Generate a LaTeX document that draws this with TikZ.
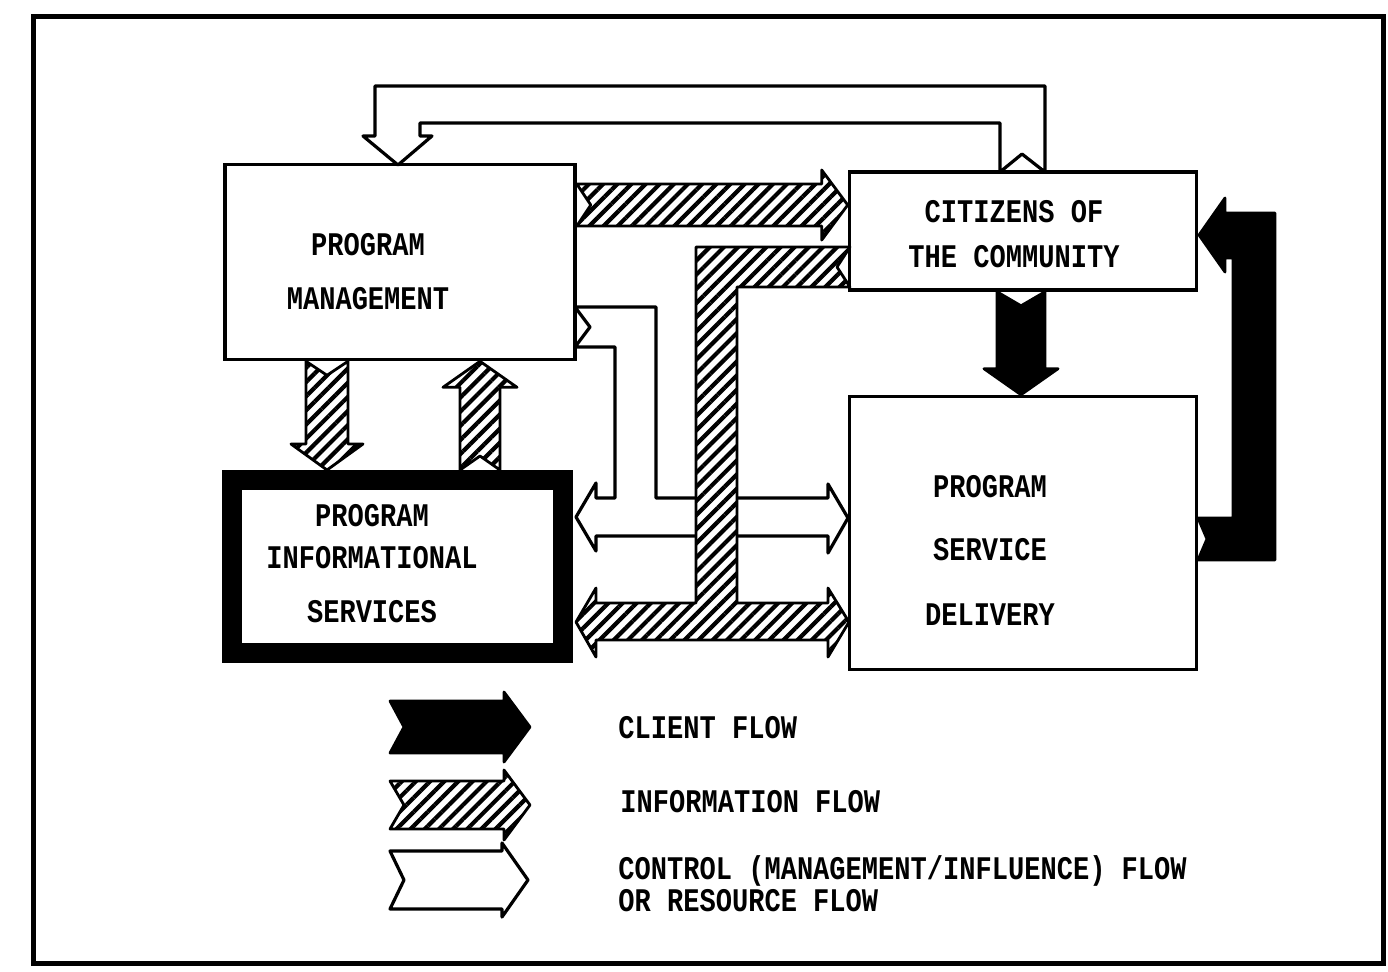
\documentclass[tikz,border=0pt]{standalone}
\usepackage{fontspec}
\newfontfamily\typedfont{Liberation Mono}[FakeStretch=0.82]
\usetikzlibrary{calc,patterns.meta}
\newcommand{\flowarrow}[5]{%
  % style, tail, tip, half shaft width, half head width; tail is notched.
  \path[#1] ($#2!#4!90:#3$) -- ($#2!7pt!#3$) -- ($#2!#4!-90:#3$)
    -- ($#3!13pt!#2!#4!-90:#3$) -- ($#3!13pt!#2!#5!-90:#3$) -- #3
    -- ($#3!13pt!#2!#5!90:#3$) -- ($#3!13pt!#2!#4!90:#3$) -- cycle;
}

\begin{document}
\begin{tikzpicture}[x=0.5pt,y=-0.5pt,
  box/.style={draw,line width=1.8pt,inner sep=0pt},
  txt/.style={font=\typedfont\bfseries\fontsize{16.5}{18}\selectfont,align=center,inner sep=0pt},
  client/.style={draw,fill=black,line width=1.4pt,line join=round},
  info/.style={draw,line width=1.4pt,line join=round,preaction={fill=white},
    pattern={Lines[angle=45,distance=5pt,line width=2.1pt]}},
  control/.style={draw,fill=white,line width=1.6pt,line join=round}]
  \useasboundingbox (0,0) rectangle (1388,971);
  \draw[line width=2.5pt] (33,16) rectangle (1383,963);

  % boxes
  \node[box,minimum width=175pt,minimum height=97.5pt] (pm) at (400,262) {};
  \node[box,minimum width=173.5pt,minimum height=59pt] (cit) at (1023,231) {};
  \node[box,line width=10pt,minimum width=165.5pt,minimum height=86.5pt] (pis) at (397.5,566.5) {};
  \node[box,minimum width=173.5pt,minimum height=136.5pt] (psd) at (1023,533) {};
  \node[txt] (pmtext) at (368,272) {PROGRAM\\[9pt]MANAGEMENT};
  \node[txt] (cittext) at (1014,234) {CITIZENS OF\\[4.5pt]THE COMMUNITY};
  \node[txt] (pistext) at (372,564) {PROGRAM\\[3pt]INFORMATIONAL\\[9pt]SERVICES};
  \node[txt] (psdtext) at (990,550) {PROGRAM\\[13.5pt]SERVICE\\[14.5pt]DELIVERY};

  % control flow
  \path[control] (1000,172) -- (1022,154) -- (1045,172) -- (1045,86) -- (375,86)
    -- (375,136) -- (363,136) -- (398,165) -- (432,136) -- (420,136) -- (420,123)
    -- (1000,123) -- cycle;
  \path[control] (575,307) -- (656,307) -- (656,498) -- (828,498) -- (828,484)
    -- (848,518) -- (828,553) -- (828,536) -- (596,536) -- (596,551) -- (576,517)
    -- (596,483) -- (596,498) -- (615,498) -- (615,347) -- (575,347) -- (590,327) -- cycle;

  % information flow
  \flowarrow{info}{(pm.east |- 0,205)}{(cit.west |- 0,205)}{10.5pt}{17.5pt}
  \flowarrow{info}{(327,0 |- pm.south)}{(327,0 |- pis.north)}{10.5pt}{18pt}
  \flowarrow{info}{(480,0 |- pis.north)}{(480,0 |- pm.south)}{10pt}{18.5pt}
  \path[info] (850,247) -- (696,247) -- (696,603) -- (596,603) -- (596,588)
    -- (576,622) -- (596,657) -- (596,640) -- (828,640) -- (828,657) -- (849,622)
    -- (828,588) -- (828,603) -- (737,603) -- (737,287) -- (850,287) -- (837,267) -- cycle;

  % client flow
  \flowarrow{client}{(1021,0 |- cit.south)}{(1021,0 |- psd.north)}{12pt}{18.5pt}
  \path[client] (1198,518) -- (1233,518) -- (1233,258) -- (1225,258) -- (1225,272)
    -- (1199,235) -- (1225,198) -- (1225,213) -- (1275,213) -- (1275,560)
    -- (1198,560) -- (1207,539) -- cycle;

  % key
  \flowarrow{client}{(390,727)}{(530,727)}{13pt}{17.5pt}
  \flowarrow{info}{(390,805)}{(530,805)}{12pt}{17.5pt}
  \flowarrow{control}{(390,880)}{(528,880)}{14.5pt}{18.5pt}
  \node[txt,anchor=west] (clientkey) at (618,728) {CLIENT FLOW};
  \node[txt,anchor=west] (infokey) at (620,802) {INFORMATION FLOW};
  \node[txt,anchor=west,align=left] (controlkey) at (618,884)
    {CONTROL (MANAGEMENT/INFLUENCE) FLOW\\[-2pt]OR RESOURCE FLOW};
\end{tikzpicture}
\end{document}
